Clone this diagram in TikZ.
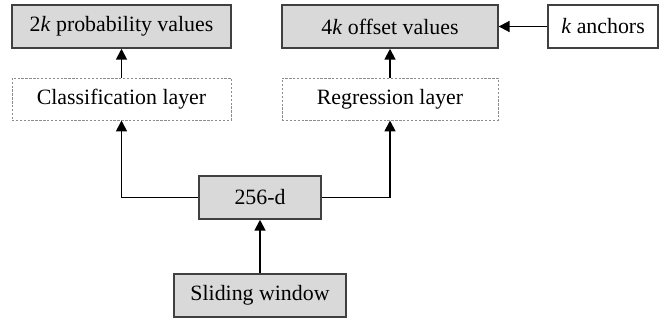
\documentclass[tikz,border=0pt]{standalone}
\usepackage{fontspec}
\setmainfont{Liberation Serif}
\usetikzlibrary{arrows.meta,positioning}
\tikzset{
    box color/.style={black!75},
    layer fill/.style={fill=black!15},
    block/.style={draw=black!75,line width=0.9pt,layer fill,inner sep=0pt,minimum height=0.97cm},
    plain block/.style={block,fill=white},
    dashed block/.style={draw=black!45,dash pattern=on 1.5pt off 1pt,line width=0.5pt,inner sep=0pt,minimum height=0.95cm},
    arr/.style={-{Triangle[width=7pt,length=7pt]},line width=1.2pt},
}
\tikzstyle{every node}=[font=\rmfamily\fontsize{14}{16}\selectfont]

\begin{document}
\begin{tikzpicture}[x={0.0225cm},y={-0.0225cm}]
        \useasboundingbox (0,0) rectangle (659,320);

        % outputs
        \node[block, minimum width=4.93cm] (prob) at (121.5,26.5) {2\textit{k} probability values};
        \node[block, minimum width=4.86cm] (offset) at (390,26.5) {4\textit{k} offset values};
        \node[plain block, minimum width=2.48cm] (anchors) at (603,26.5) {\textit{k} anchors};

        % layers
        \node[dashed block, minimum width=4.93cm] (cls) at (121.5,99) {Classification layer};
        \node[dashed block, minimum width=4.86cm] (reg) at (390,99) {Regression layer};

        % features and input
        \node[block, minimum width=2.75cm] (feat) at (260,197.5) {256-d};
        \node[block, minimum width=3.87cm] (slide) at (260,295.5) {Sliding window};

        \draw[arr] (slide) -- (feat);
        \draw[arr] (feat.west) -| (cls.south);
        \draw[arr] (feat.east) -| (reg.south);
        \draw[arr] (cls) -- (prob);
        \draw[arr] (reg) -- (offset);
        \draw[arr] (anchors) -- (offset);
    \end{tikzpicture}
\end{document}
